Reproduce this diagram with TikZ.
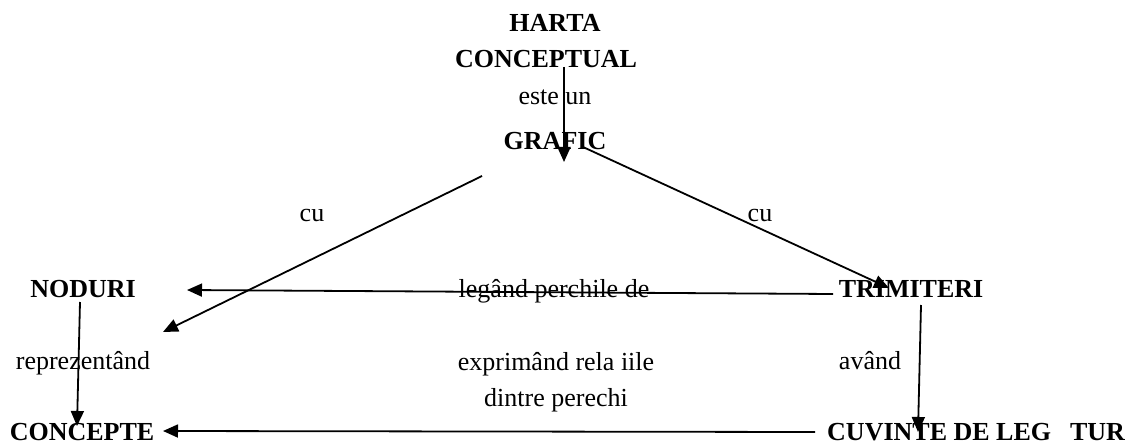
\documentclass[tikz,border=0pt]{standalone}
\usepackage{fontspec}
\setmainfont{Liberation Serif}
\usetikzlibrary{arrows.meta}
\begin{document}
\begin{tikzpicture}[x=1pt,y=-1pt,
  lbl/.style={inner sep=0pt,anchor=base,font=\fontsize{26}{30}\selectfont},
  concept/.style={lbl,font=\fontsize{26}{30}\selectfont\bfseries},
  conn/.style={line width=1.8pt,-{Triangle[length=15pt,width=13pt]}}]
\path[use as bounding box,fill=white] (0,0) rectangle (1131,446);
% concepts
\node[concept] (harta) at (555,32) {HARTA};
\node[concept] (concept) at (546,68) {CONCEPTUAL};
\node[concept] (grafic) at (555,150) {GRAFIC};
\node[concept] (noduri) at (83,297) {NODURI};
\node[concept] (trimiteri) at (911,297) {TRIMITERI};
\node[concept] (concepte) at (82,440) {CONCEPTE};
\node[concept,anchor=base west] (cuvinte) at (827,440) {CUVINTE DE LEG\kern19pt TUR};
% linking words
\node[lbl] (esteun) at (555,105) {este un};
\node[lbl] (cu1) at (312,222) {cu};
\node[lbl] (cu2) at (760,222) {cu};
\node[lbl] (legand) at (554,297) {legând perchile de};
\node[lbl] (repr) at (83,369) {reprezentând};
\node[lbl] (avand) at (870,369) {având};
\node[lbl] (expr1) at (556,370) {exprimând rela iile};
\node[lbl] (expr2) at (556,406) {dintre perechi};
% connector end points
\coordinate (a1s) at (564,67);  \coordinate (a1e) at (564,162);
\coordinate (a2s) at (583,147); \coordinate (a2e) at (889,288);
\coordinate (a3s) at (482,176); \coordinate (a3e) at (163,332);
\coordinate (a4s) at (833,294); \coordinate (a4e) at (187,290);
\coordinate (a5s) at (80,302);  \coordinate (a5e) at (77,426);
\coordinate (a6s) at (921,305); \coordinate (a6e) at (918,432);
\coordinate (a7s) at (815,432); \coordinate (a7e) at (163,431);
\draw[conn] (a1s) -- (a1e);
\draw[conn] (a2s) -- (a2e);
\draw[conn] (a3s) -- (a3e);
\draw[conn] (a4s) -- (a4e);
\draw[conn] (a5s) -- (a5e);
\draw[conn] (a6s) -- (a6e);
\draw[conn] (a7s) -- (a7e);
\end{tikzpicture}
\end{document}
